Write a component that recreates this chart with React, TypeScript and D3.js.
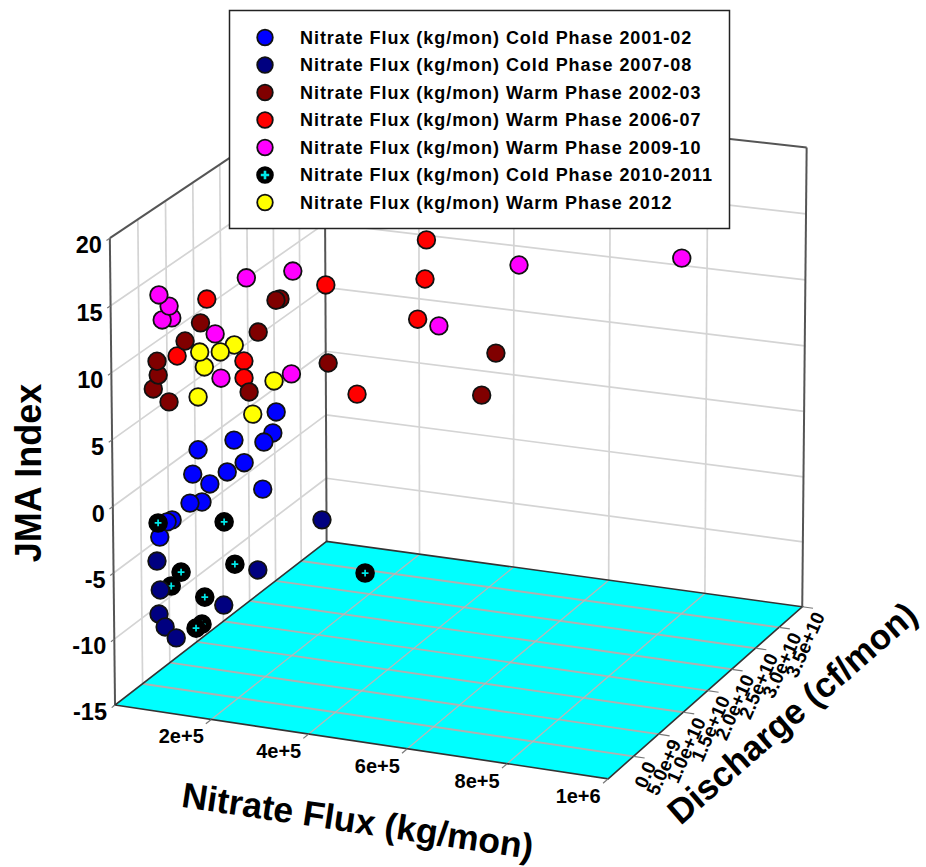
import * as d3 from "d3";

// values; flux in 1000 kg/mon, discharge in 1e8 cf/mon
const blueFlux = [77, 185, 180, 168, 127, 70, 93, 117, 140, 166, 82, 66, 41, 34, 24];
const blueDischarge = [38, 87, 85, 79, 60, 34, 45, 56, 67, 78, 40, 32, 21, 18, 13];
const blueJma = [1.99, 3.9, 2.35, 1.78, 2.3, 0.23, -0.73, -0.04, 0.44, -1.77, -2.0, -1.92, -2.98, -3.07, -4.12];

const blackFlux = [22, 112, 53, 39, 127, 85, 81, 73, 307];
const blackDischarge = [12, 54, 26, 20, 60, 41, 39, 35, 143];
const blackJma = [-3.03, -3.79, -7.04, -7.98, -7.12, -9.25, -11.27, -11.49, -9.47];

const navyFlux = [20, 24, 22, 30, 45, 111, 158, 247];
const navyDischarge = [11, 13, 12, 16, 23, 53, 75, 116];
const navyJma = [-5.9, -8.14, -9.95, -11.02, -12.0, -10.1, -7.87, -4.87];

const redFlux = [91, 50, 141, 141, 254, 393, 391, 381, 297];
const redDischarge = [44, 25, 67, 67, 119, 183, 182, 177, 138];
const redJma = [13.22, 9.31, 8.13, 6.85, 12.87, 15.07, 12.14, 9.2, 4.27];

const maroonFlux = [191, 186, 82, 61, 17, 24, 23, 38, 161, 148, 257, 490, 470];
const maroonDischarge = [90, 87, 40, 30, 10, 13, 12, 20, 76, 70, 120, 227, 218];
const maroonJma = [12.36, 12.33, 11.51, 10.34, 7.12, 8.11, 9.17, 5.95, 10.14, 5.74, 6.97, 5.68, 2.65];

const magentaFlux = [43, 30, 40, 26, 102, 110, 206, 145, 209, 522, 751, 410];
const magentaDischarge = [22, 16, 20, 14, 49, 52, 97, 69, 98, 242, 347, 191];
const magentaJma = [12.22, 12.18, 13.15, 14.09, 10.51, 7.13, 6.58, 14.34, 14.31, 12.08, 10.65, 8.42];

const yellowFlux = [128, 87, 81, 109, 78, 182, 153];
const yellowDischarge = [61, 42, 39, 52, 38, 86, 72];
const yellowJma = [9.45, 8.16, 9.34, 9.1, 5.98, 6.26, 4.03];

const fluxTicks = [200, 400, 600, 800, 1000];
const fluxLabels = ["2e+5", "4e+5", "6e+5", "8e+5", "1e+6"];
const dischargeTicks = [0, 50, 100, 150, 200, 250, 300, 350];
const dischargeLabels = ["0.0", "5.0e+9", "1.0e+10", "1.5e+10", "2.0e+10", "2.5e+10", "3.0e+10", "3.5e+10"];
const jmaTicks = [-15, -10, -5, 0, 5, 10, 15, 20];

const legendNames = [
  "Nitrate Flux (kg/mon) Cold Phase 2001-02",
  "Nitrate Flux (kg/mon) Cold Phase 2007-08",
  "Nitrate Flux (kg/mon) Warm Phase 2002-03",
  "Nitrate Flux (kg/mon) Warm Phase 2006-07",
  "Nitrate Flux (kg/mon) Warm Phase 2009-10",
  "Nitrate Flux (kg/mon) Cold Phase 2010-2011",
  "Nitrate Flux (kg/mon) Warm Phase 2012",
];
const legendColors = ["#0000ff", "#000080", "#800000", "#ff0000", "#ff00ff", "#000000", "#ffff00"];

// draw order, not legend order
const series = [
  { color: "#0000ff", flux: blueFlux, discharge: blueDischarge, jma: blueJma },
  { color: "#000000", flux: blackFlux, discharge: blackDischarge, jma: blackJma },
  { color: "#000080", flux: navyFlux, discharge: navyDischarge, jma: navyJma },
  { color: "#ff0000", flux: redFlux, discharge: redDischarge, jma: redJma },
  { color: "#800000", flux: maroonFlux, discharge: maroonDischarge, jma: maroonJma },
  { color: "#ff00ff", flux: magentaFlux, discharge: magentaDischarge, jma: magentaJma },
  { color: "#ffff00", flux: yellowFlux, discharge: yellowDischarge, jma: yellowJma },
];

const fluxScale = d3.scaleLinear().domain([0, 1000]).range([0, 1]);
const dischargeScale = d3.scaleLinear().domain([-50, 350]).range([0, 1]);
const jmaScale = d3.scaleLinear().domain([-15, 20]).range([0, 1]);

// camera matrix fitted to the corners of the box
const P = [474.97468, 227.56905, -6.71301, 115.02485, 50.47222, -137.14688, -470.16381, 705.04123, -0.02988, 0.04899, -0.0139];

function project(flux: number, discharge: number, jma: number): [number, number] {
  const f = fluxScale(flux);
  const d = dischargeScale(discharge);
  const t = jmaScale(jma);
  const w = P[8] * f + P[9] * d + P[10] * t + 1;
  return [(P[0] * f + P[1] * d + P[2] * t + P[3]) / w, (P[4] * f + P[5] * d + P[6] * t + P[7]) / w];
}

const seg = (a: [number, number, number], b: [number, number, number]) =>
  d3.line()([project(...a), project(...b)]) ?? "";

const FONT = "'Liberation Sans', Arial, sans-serif";
const GRID = "#d4d4d4";
const EDGE = "#555555";
const fMax = 1000;
const dMin = -50;
const dMax = 350;
const zMin = -15;
const zMax = 20;

function Marker({ x, y, color, r, plus }: { x: number; y: number; color: string; r: number; plus: number }) {
  if (color === "#000000") {
    return (
      <g>
        <circle cx={x} cy={y} r={r} fill="#000" stroke="#000" strokeWidth={2} />
        <path d={`M${x - plus},${y}H${x + plus}M${x},${y - plus}V${y + plus}`} stroke="#00e8e8" strokeWidth={plus > 3.6 ? 2.6 : 1.7} />
      </g>
    );
  }
  return <circle cx={x} cy={y} r={r} fill={color} stroke="#111" strokeWidth={1.8} />;
}

export default function App() {
  const floor = [project(0, dMin, zMin), project(fMax, dMin, zMin), project(fMax, dMax, zMin), project(0, dMax, zMin)];
  const jmaGrid = jmaTicks.slice(1, -1);
  return (
    <svg width={926} height={867} style={{ position: "absolute", left: 0, top: 0 }} fontFamily={FONT} fontWeight="bold">
      {/* walls */}
      <g stroke={GRID} strokeWidth={1.7} fill="none">
        {jmaGrid.map((z) => (
          <path key={z} d={seg([0, dMin, z], [0, dMax, z]) + seg([0, dMax, z], [fMax, dMax, z])} />
        ))}
        {dischargeTicks.slice(0, -1).map((d) => (
          <path key={d} d={seg([0, d, zMin], [0, d, zMax])} />
        ))}
        {fluxTicks.slice(0, -1).map((f) => (
          <path key={f} d={seg([f, dMax, zMin], [f, dMax, zMax])} />
        ))}
      </g>
      <path d={`M${floor.join("L")}Z`} fill="#00ffff" stroke="none" />
      <g fill="none">
        {dischargeTicks.slice(0, -1).map((d) => (
          <path key={d} d={seg([0, d, zMin], [fMax, d, zMin])} stroke="#b0b0b0" strokeWidth={1.9} />
        ))}
        {fluxTicks.slice(0, -1).map((f) => (
          <path key={f} d={seg([f, dMin, zMin], [f, dMax, zMin])} stroke="#b8b8b8" strokeWidth={1.3} />
        ))}
      </g>
      <g stroke={EDGE} strokeWidth={2} fill="none">
        <path d={seg([0, dMin, zMin], [0, dMin, zMax])} />
        <path d={seg([0, dMax, zMin], [0, dMax, zMax])} />
        <path d={seg([fMax, dMax, zMin], [fMax, dMax, zMax])} />
        <path d={seg([0, dMin, zMax], [0, dMax, zMax])} />
        <path d={seg([0, dMax, zMax], [fMax, dMax, zMax])} />
      </g>
      <path d={`M${floor.join("L")}Z`} fill="none" stroke="#333" strokeWidth={1.6} />
      <g stroke="#777" strokeWidth={1.2}>
        {dischargeTicks.map((d) => (
          <path key={d} d={seg([fMax, d, zMin], [fMax + 22, d, zMin])} />
        ))}
        {fluxTicks.map((f) => (
          <path key={f} d={seg([f, dMin, zMin], [f, dMin - 10, zMin])} />
        ))}
        {jmaTicks.map((z) => (
          <path key={z} d={seg([0, dMin, z], [0, dMin - 6, z])} />
        ))}
      </g>

      {series.map((s) =>
        s.flux.map((fl, i) => {
          const [x, y] = project(fl, s.discharge[i], s.jma[i]);
          return <Marker key={`${s.color}${i}`} x={x} y={y} color={s.color} r={8.8} plus={3.4} />;
        }),
      )}

      {/* tick labels */}
      {jmaTicks.map((z) => {
        const [x, y] = project(0, dMin, z);
        return (
          <text key={z} x={x - 8} y={y + 15} textAnchor="end" fontSize={23.5}>
            {z}
          </text>
        );
      })}
      {fluxTicks.map((f, i) => {
        const [x, y] = project(f, dMin, zMin);
        return (
          <text key={f} x={x - 30} y={y + 24} textAnchor="middle" fontSize={20}>
            {fluxLabels[i]}
          </text>
        );
      })}
      {dischargeTicks.map((d, i) => {
        const [x, y] = project(fMax, d, zMin);
        return (
          <text key={d} transform={`translate(${x + 23},${y + 9}) rotate(-66)`} textAnchor="end" fontSize={19}>
            {dischargeLabels[i]}
          </text>
        );
      })}

      {/* axis titles */}
      <text transform="translate(41,473) rotate(-90)" textAnchor="middle" fontSize={36}>
        JMA Index
      </text>
      <text transform="translate(356,833) rotate(8.5)" textAnchor="middle" fontSize={35.5}>
        Nitrate Flux (kg/mon)
      </text>
      <text transform="translate(800,722) rotate(-41)" textAnchor="middle" fontSize={35}>
        Discharge (cf/mon)
      </text>

      {/* legend */}
      <rect x={229.5} y={10.5} width={500} height={218} fill="#fff" stroke="#222" strokeWidth={1.5} />
      {legendNames.map((name, i) => {
        const y = 37.5 + i * 27.5;
        return (
          <g key={name}>
            <Marker x={265} y={y} color={legendColors[i]} r={7.8} plus={4.2} />
            <text x={300} y={y + 6} fontSize={18} letterSpacing={0.95}>
              {name}
            </text>
          </g>
        );
      })}
    </svg>
  );
}
